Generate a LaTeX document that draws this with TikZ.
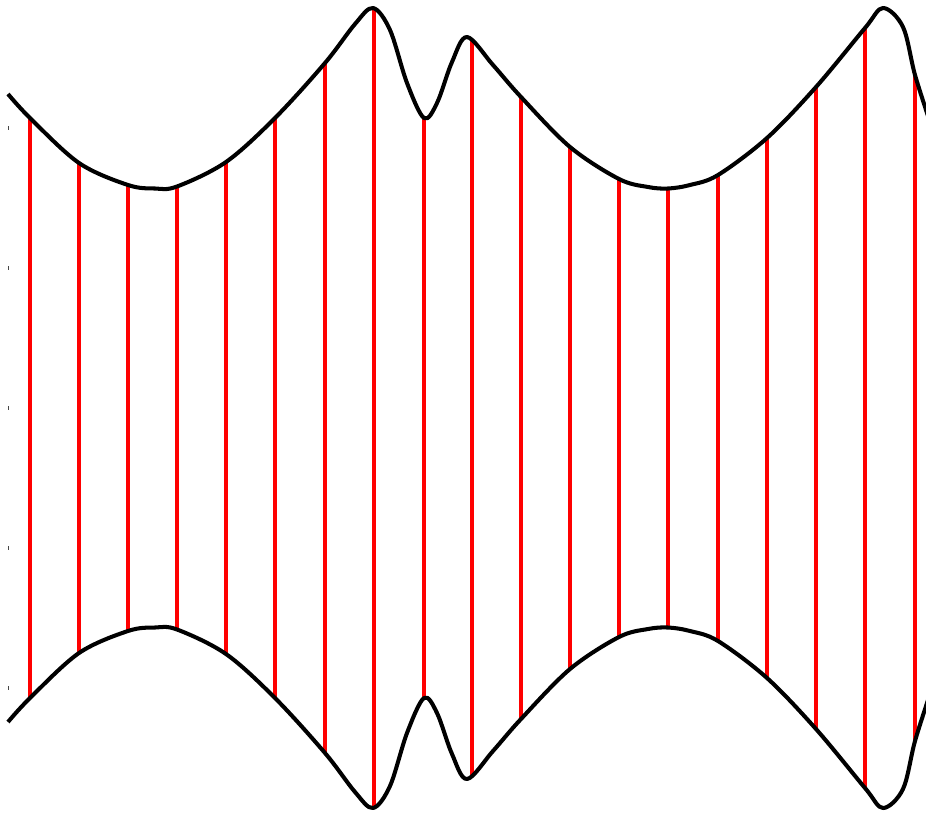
\documentclass[tikz,border=0pt]{standalone}
\usepackage{tikz}
\usetikzlibrary{calc}
\definecolor{tickgrey}{RGB}{70,70,70}
% one rim, drawn in pixel units of the picture
\newcommand{\rimline}{\draw[rim] plot[smooth,tension=.55] coordinates {(8,94) (30,118) (79,163) (128,185) (155,188.5) (177,186.5) (226,162) (275,118) (325,63) (355,24) (373,8) (390,30) (407,83) (424,118) (437,103) (452,62) (467,37) (493,65) (521,97) (570,147) (619,179) (648,187) (668,188.5) (690,185) (718,175) (767,138) (816,87) (865,28) (883,8) (903,27) (915,75) (930,122)};}

\begin{document}
\begin{tikzpicture}[x=0.02cm,y=-0.02cm,
  rim/.style={black,line width=2.3pt,line join=round},
  rung/.style={red,line width=2.1pt}]
\clip (0,0) rectangle (926,812);
% rungs, lower end mirrored about y=408
\foreach \i/\x/\y in {1/30/118,2/79/163,3/128/186,4/177/187,5/226/162,6/275/118,7/325/63,8/374/9,9/424/118,10/472/40,11/521/97,12/570/147,13/619/179,14/668/188,15/718/175,16/767/138,17/816/87,18/865/28,19/915/75}{
  \coordinate (t\i) at (\x,\y);
  \coordinate (b\i) at (\x,816-\y);
  \draw[rung] (t\i) -- (b\i);
}
% upper rim
\rimline
% lower rim
\begin{scope}[shift={(0,816)},yscale=-1]
\rimline
\end{scope}
% stray ticks on the left edge
\foreach \y in {128,268,408,548,688}
  \draw[tickgrey,line width=0.4pt] (8,\y-2) -- (8,\y+2);
\end{tikzpicture}
\end{document}
